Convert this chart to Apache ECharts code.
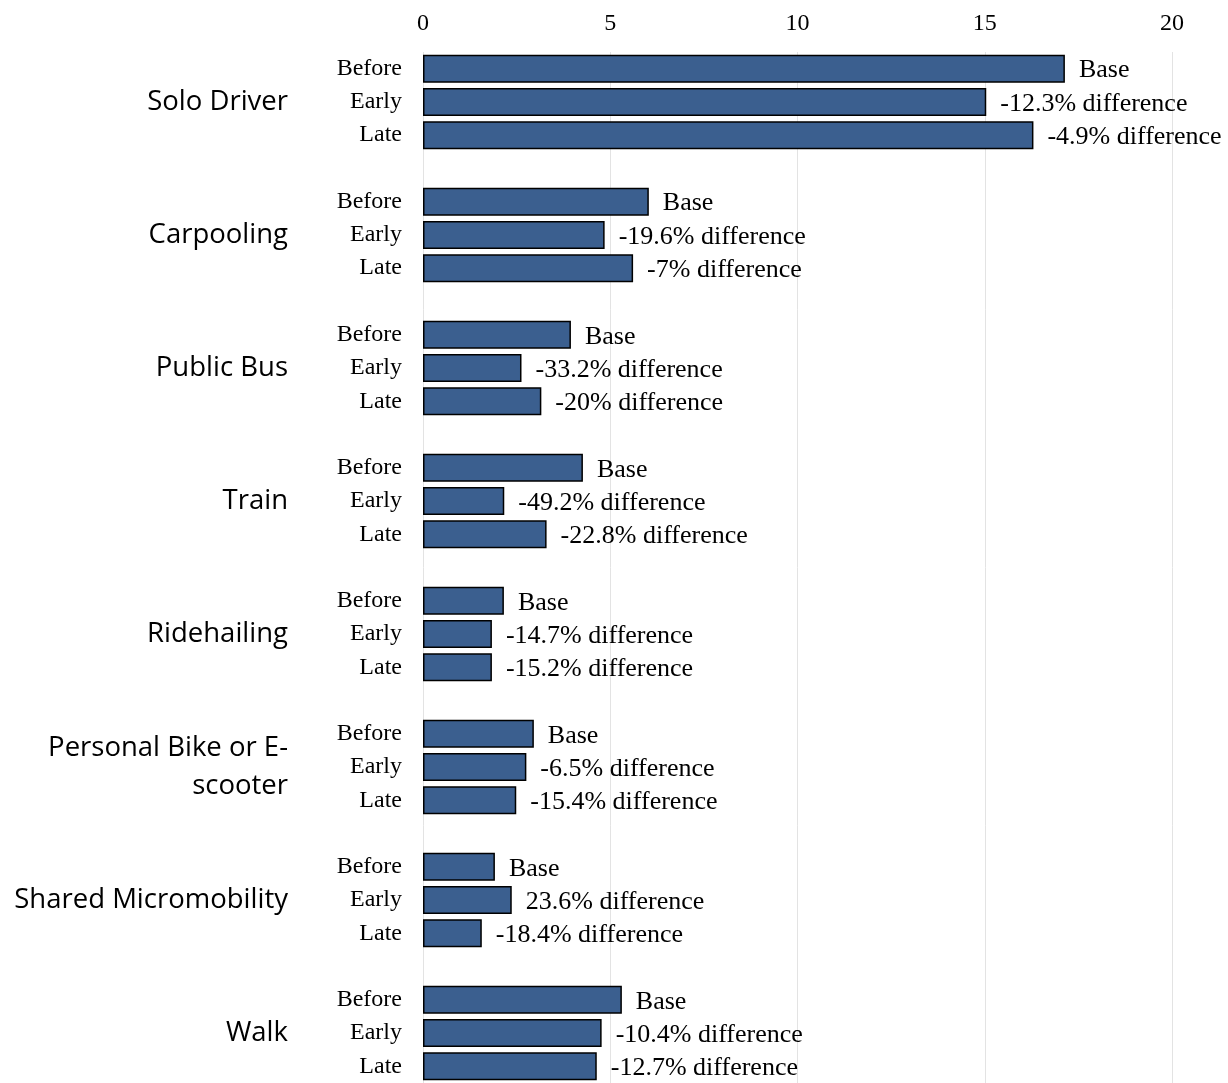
<!DOCTYPE html>
<html>
<head>
<meta charset="utf-8">
<script src="https://cdn.jsdelivr.net/npm/echarts@6/dist/echarts.min.js"></script>
<style>
html,body{margin:0;padding:0;background:#fff;}
#chart{width:1228px;height:1083px;}
</style>
</head>
<body>
<div id="chart"></div>
<script>
const groups = ['Solo Driver', 'Carpooling', 'Public Bus', 'Train', 'Ridehailing', 'Personal Bike or E-\nscooter', 'Shared Micromobility', 'Walk'];
const periods = ['Before', 'Early', 'Late'];
const beforeVals = [17.14, 6.03, 3.95, 4.27, 2.16, 2.96, 1.92, 5.31];
const earlyVals  = [15.04, 4.85, 2.63, 2.17, 1.84, 2.76, 2.37, 4.77];
const lateVals   = [16.30, 5.61, 3.16, 3.30, 1.84, 2.49, 1.57, 4.64];
const earlyDiff  = ['-12.3%', '-19.6%', '-33.2%', '-49.2%', '-14.7%', '-6.5%', '23.6%', '-10.4%'];
const lateDiff   = ['-4.9%', '-7%', '-20%', '-22.8%', '-15.2%', '-15.4%', '-18.4%', '-12.7%'];
const xTicks = {min: 0, max: 20, interval: 5};

// Build rows (3 periods + spacer per group)
const rowLabels = [], groupRowLabels = [], values = [], labelTexts = [];
groups.forEach((g, i) => {
  const vals = [beforeVals[i], earlyVals[i], lateVals[i]];
  const txt = ['Base', earlyDiff[i] + ' difference', lateDiff[i] + ' difference'];
  periods.forEach((p, j) => {
    rowLabels.push(p);
    groupRowLabels.push(j === 1 ? g : '');
    values.push(vals[j]);
    labelTexts.push(txt[j]);
  });
  if (i < groups.length - 1) {
    rowLabels.push('');
    groupRowLabels.push('');
    values.push(null);
    labelTexts.push('');
  }
});

const serif = '"Liberation Serif", "Times New Roman", serif';
const chart = echarts.init(document.getElementById('chart'));
chart.setOption({
  backgroundColor: '#fff',
  animation: false,
  grid: {left: 423, right: 56, top: 52, height: 1038},
  xAxis: {
    type: 'value', position: 'top',
    min: xTicks.min, max: xTicks.max, interval: xTicks.interval,
    axisLine: {show: false}, axisTick: {show: false},
    axisLabel: {color: '#000', fontFamily: serif, fontSize: 24, margin: 16},
    splitLine: {show: true, lineStyle: {color: '#e3e3e3', width: 1}}
  },
  yAxis: [
    {
      type: 'category', data: rowLabels, inverse: true,
      axisLine: {show: false}, axisTick: {show: false},
      axisLabel: {color: '#000', fontFamily: serif, fontSize: 24, margin: 21, interval: 0}
    },
    {
      type: 'category', data: groupRowLabels, inverse: true, position: 'left',
      axisLine: {show: false}, axisTick: {show: false},
      axisLabel: {color: '#000', fontFamily: '"Open Sans", sans-serif', fontSize: 27.5, margin: 135, interval: 0, align: 'right', lineHeight: 38}
    }
  ],
  series: [{
    type: 'bar', yAxisIndex: 0, data: values, barWidth: 28,
    itemStyle: {color: '#3b5f8f', borderColor: '#000', borderWidth: 1.5},
    label: {
      show: true, position: 'right', distance: 14, offset: [0, 2],
      color: '#000', fontFamily: serif, fontSize: 26,
      formatter: p => labelTexts[p.dataIndex]
    }
  }]
});
</script>
</body>
</html>
